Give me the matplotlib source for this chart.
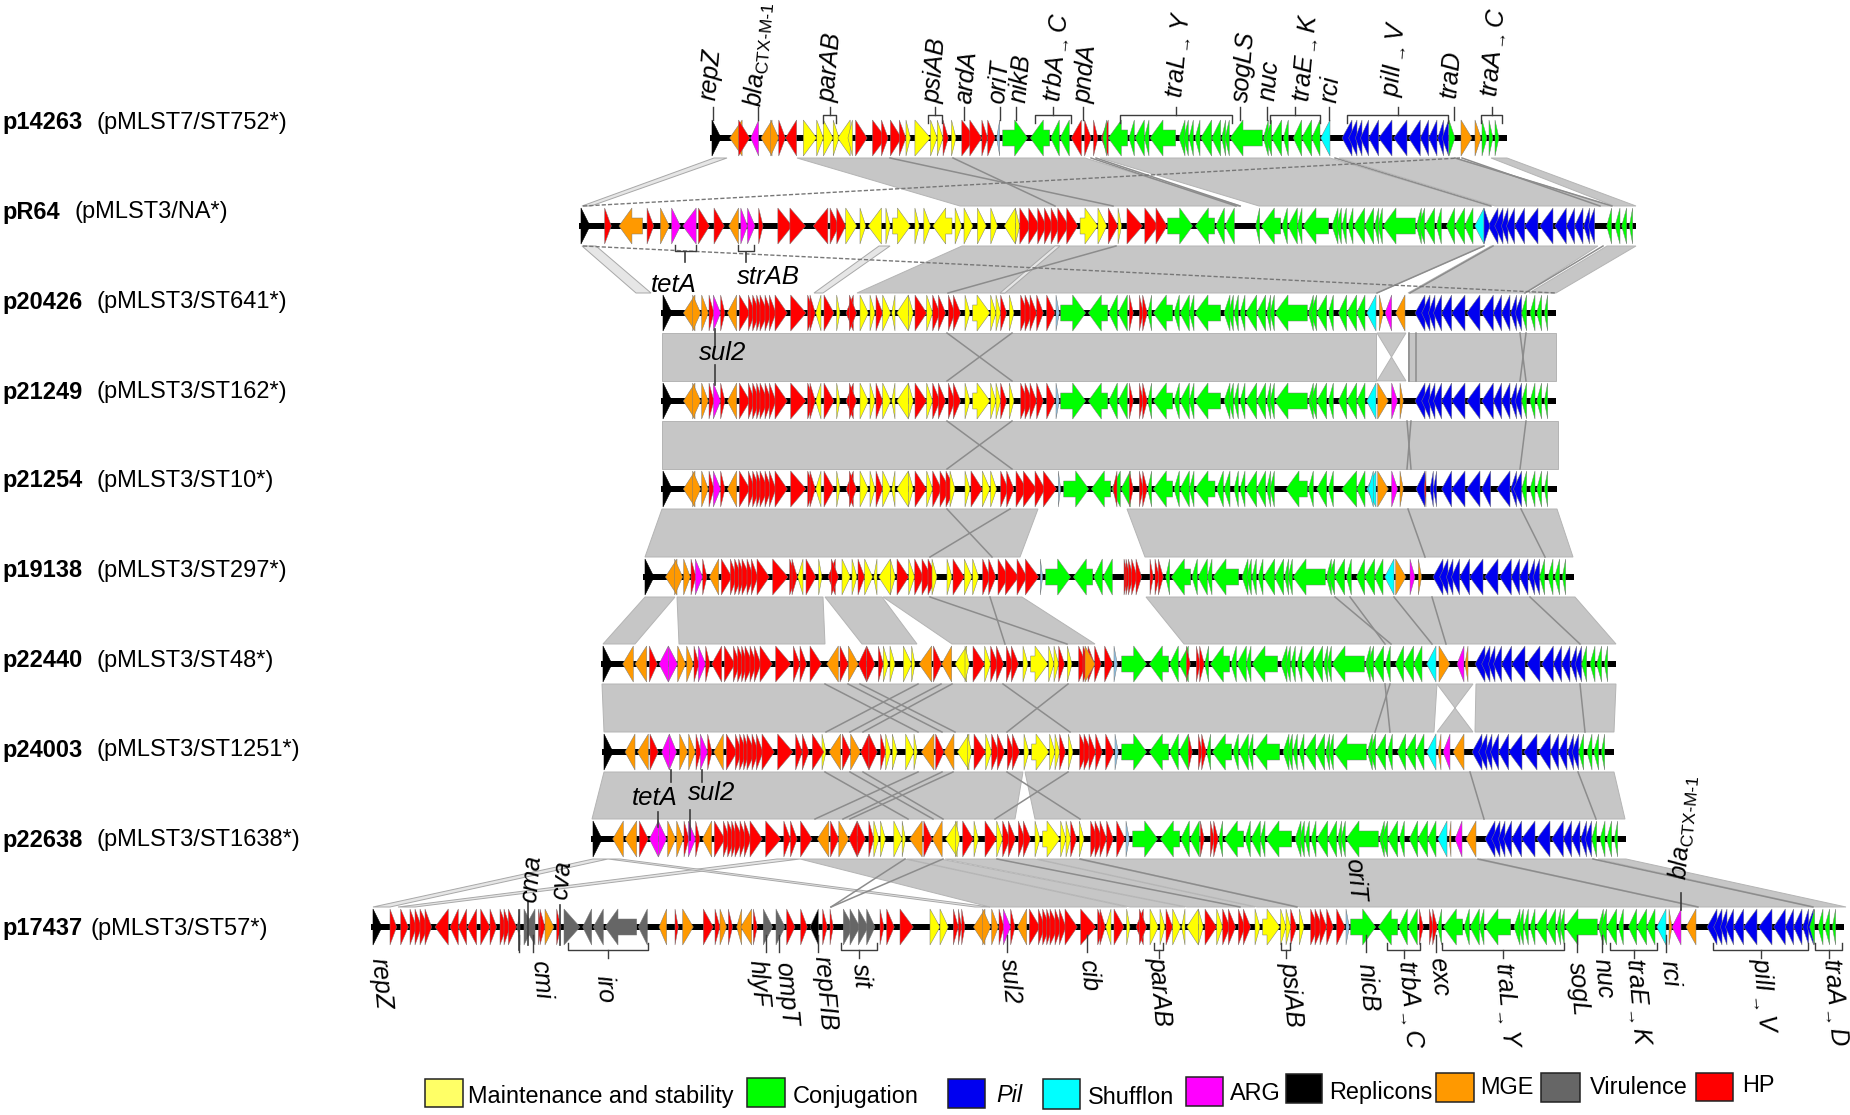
import matplotlib
matplotlib.use('Agg')
import matplotlib.pyplot as plt

plt.rcParams['font.family'] = ['Liberation Sans', 'DejaVu Sans']
plt.rcParams['mathtext.fontset'] = 'custom'
plt.rcParams['mathtext.it'] = 'Liberation Sans:italic'
plt.rcParams['mathtext.rm'] = 'Liberation Sans'
plt.rcParams['mathtext.default'] = 'it'

COLORS = {'H': '#ff0000', 'Y': '#ffff00', 'G': '#00ff00', 'B': '#0000f0', 'S': '#00ffff',
          'M': '#ff00ff', 'K': '#000000', 'O': '#ff9900', 'V': '#666666', 'L': '#8fc4e8'}

names = ['p14263', 'pR64', 'p20426', 'p21249', 'p21254', 'p19138', 'p22440', 'p24003', 'p22638', 'p17437']
types = ['(pMLST7/ST752*)', '(pMLST3/NA*)', '(pMLST3/ST641*)', '(pMLST3/ST162*)', '(pMLST3/ST10*)',
         '(pMLST3/ST297*)', '(pMLST3/ST48*)', '(pMLST3/ST1251*)', '(pMLST3/ST1638*)', '(pMLST3/ST57*)']
type_x = [97, 74, 97, 97, 97, 97, 97, 97, 97, 90]
label_y = [123, 212, 302, 392, 481, 571, 661, 750, 840, 929]
track_y = [138, 226, 313, 401, 489, 577, 664, 752, 839, 927]
track_start = [712, 581, 663, 663, 663, 645, 603, 604, 593, 373]
track_end = [1507, 1636, 1556, 1556, 1557, 1574, 1616, 1614, 1626, 1844]

# genes are (tail, tip, category), positions along the track
CORE1 = [(158, 182, 'O'), (185, 205, 'O'), (207, 222, 'H'), (220, 242, 'M'), (242, 255, 'H'),
         (298, 330, 'H'), (325, 345, 'H'), (338, 360, 'H'), (350, 368, 'H'), (360, 385, 'H'),
         (375, 395, 'H'), (388, 408, 'H'), (405, 442, 'H'), (452, 498, 'H')]
CORE2 = [(503, 523, 'H'), (510, 526, 'H'), (543, 527, 'Y'), (552, 582, 'H'), (590, 600, 'Y'),
         (640, 618, 'H'), (628, 650, 'H'), (660, 685, 'Y'), (690, 705, 'Y'), (708, 728, 'H'),
         (728, 752, 'Y'), (765, 755, 'Y'), (805, 770, 'Y'), (805, 820, 'Y')]
CORE3 = [(825, 860, 'H'), (860, 878, 'Y'), (878, 900, 'H'), (895, 917, 'H'), (925, 945, 'H'),
         (940, 962, 'H'), (975, 990, 'Y'), (998, 1050, 'Y'), (1052, 1068, 'Y'), (1068, 1082, 'Y'),
         (1082, 1100, 'H'), (1108, 1122, 'Y'), (1142, 1165, 'H'), (1155, 1178, 'H'), (1170, 1190, 'H'),
         (1190, 1210, 'H'), (1220, 1245, 'H'), (1248, 1258, 'L')]
CORE3B = [(825, 860, 'H'), (860, 878, 'Y'), (878, 905, 'H'), (900, 930, 'H'), (918, 945, 'H'), (930, 945, 'Y'),
          (975, 990, 'Y'), (993, 1027, 'H'), (1027, 1050, 'Y'), (1052, 1070, 'Y'), (1082, 1105, 'H'),
          (1100, 1122, 'H'), (1128, 1160, 'H'), (1150, 1190, 'H'), (1185, 1215, 'H'), (1210, 1250, 'H'),
          (1255, 1262, 'L')]
TRB = [(-118, -43, 'G'), (23, -35, 'G'), (52, 26, 'G'), (82, 54, 'G')]
REDS = [(88, 100, 'H'), (118, 130, 'H'), (128, 142, 'H')]
TRA2 = [(155, 143, 'G'), (218, 160, 'G'), (238, 222, 'G'), (268, 240, 'G'), (282, 268, 'G'), (362, 285, 'G'),
        (390, 372, 'G'), (400, 386, 'G'), (415, 402, 'G'), (435, 420, 'G'), (470, 437, 'G'), (497, 470, 'G'),
        (512, 500, 'G'), (523, 510, 'G'), (622, 525, 'G'), (640, 625, 'G'), (650, 632, 'G'), (680, 650, 'G'),
        (700, 685, 'G'), (740, 715, 'G'), (770, 740, 'G'), (795, 770, 'G')]
TRA2B = [(155, 143, 'G'), (218, 160, 'G'), (238, 222, 'G'), (268, 240, 'G'), (282, 268, 'G'), (345, 285, 'G'),
         (370, 350, 'G'), (390, 372, 'G'), (415, 402, 'G'), (435, 420, 'G'), (470, 437, 'G'), (497, 470, 'G'),
         (512, 500, 'G'), (523, 510, 'G'), (622, 558, 'G'), (640, 625, 'G'), (680, 650, 'G'), (700, 685, 'G'),
         (770, 725, 'G'), (795, 770, 'G')]
SHUF = [(828, 800, 'S')]
PIL = [(975, 945, 'B'), (990, 965, 'B'), (1005, 985, 'B'), (1025, 1000, 'B'), (1055, 1025, 'B'), (1095, 1055, 'B'),
       (1140, 1100, 'B'), (1180, 1145, 'B'), (1205, 1180, 'B'), (1230, 1205, 'B'), (1250, 1232, 'B'), (1265, 1245, 'B')]
PIL_B = [(975, 948, 'B'), (978, 973, 'H'), (1000, 990, 'B'), (1010, 1000, 'B'), (1055, 1025, 'B'), (1095, 1055, 'B'),
         (1140, 1100, 'B'), (1172, 1145, 'B'), (1230, 1190, 'B'), (1250, 1232, 'B'), (1265, 1240, 'B')]
ENDG = [(1280, 1265, 'G'), (1305, 1290, 'G'), (1325, 1310, 'G'), (1343, 1333, 'G')]

P14263_LEFT = [(408, 380, 'O'), (400, 425, 'H'), (445, 427, 'M'), (475, 450, 'O'), (472, 490, 'O'), (490, 505, 'H'),
               (530, 505, 'H'), (545, 575, 'Y'), (575, 590, 'Y'), (590, 612, 'Y'), (612, 625, 'Y'), (650, 622, 'Y'),
               (655, 645, 'Y'), (662, 688, 'H'), (700, 730, 'H'), (720, 735, 'H'), (740, 765, 'H'), (760, 775, 'H'),
               (775, 785, 'Y'), (795, 830, 'Y'), (830, 845, 'Y'), (845, 858, 'Y'), (858, 870, 'H'), (877, 887, 'Y'),
               (900, 930, 'H'), (918, 945, 'H'), (945, 958, 'H'), (958, 975, 'H'), (985, 978, 'L'), (1168, 1145, 'H'),
               (1175, 1190, 'H'), (1195, 1205, 'H'), (1228, 1212, 'H')]
P14263_RIGHT = [(1449, 1455, 'G'), (1461, 1472, 'O'), (1475, 1481, 'O'), (1482, 1487, 'G'), (1489, 1493, 'G'), (1495, 1499, 'G')]
PR64_LEFT = [(100, 115, 'H'), (185, 132, 'O'), (195, 210, 'H'), (225, 245, 'O'), (250, 270, 'M'), (305, 275, 'M'),
             (310, 335, 'H'), (345, 368, 'H'), (400, 378, 'O'), (405, 420, 'M'), (420, 437, 'M'), (445, 455, 'H'),
             (488, 520, 'H'), (515, 550, 'H'), (600, 567, 'H'), (605, 625, 'H'), (620, 640, 'H'), (640, 665, 'Y'),
             (672, 685, 'Y'), (720, 690, 'Y'), (730, 740, 'Y'), (745, 785, 'Y'), (795, 805, 'Y'), (815, 830, 'Y'),
             (878, 835, 'Y'), (885, 900, 'Y'), (905, 925, 'Y'), (935, 955, 'Y'), (965, 980, 'Y'), (1020, 995, 'Y'),
             (1020, 1030, 'Y'), (1030, 1055, 'H'), (1050, 1075, 'H'), (1070, 1090, 'H'), (1085, 1105, 'H'),
             (1100, 1120, 'H'), (1115, 1140, 'H'), (1135, 1160, 'H'), (1165, 1205, 'Y'), (1205, 1225, 'Y'),
             (1228, 1250, 'H'), (1250, 1258, 'Y'), (1270, 1305, 'H'), (1310, 1340, 'H'), (1335, 1360, 'H')]
FRONT_20426 = [(165, 130, 'O')]
INS = [(640, 660, 'H'), (660, 680, 'H'), (690, 725, 'H'), (775, 740, 'O'), (780, 805, 'H'), (805, 835, 'O'), (860, 835, 'H'),
       (860, 885, 'H'), (895, 910, 'H'), (910, 925, 'Y'), (930, 945, 'Y'), (970, 995, 'Y'), (995, 1005, 'Y'),
       (1055, 1017, 'O'), (1060, 1085, 'H'), (1115, 1085, 'O'), (1160, 1125, 'Y'), (1155, 1168, 'Y')]
FRONT_22440 = [(160, 128, 'O'), (200, 165, 'O'), (208, 232, 'H'), (265, 237, 'M'), (265, 293, 'M')]
FRONT_24003 = [(165, 135, 'O'), (205, 172, 'O'), (210, 235, 'H'), (268, 245, 'M'), (268, 290, 'M')]
FRONT_22638 = [(130, 98, 'O'), (170, 135, 'O'), (178, 205, 'H'), (235, 208, 'M'), (235, 260, 'M')]
P17437_A = [(90, 110, 'H'), (122, 145, 'H'), (150, 170, 'H'), (165, 185, 'H'), (180, 205, 'H'), (195, 215, 'H'),
            (265, 225, 'H'), (295, 270, 'H'), (320, 295, 'H'), (350, 322, 'H'), (362, 390, 'H'), (390, 410, 'H'),
            (420, 440, 'H'), (432, 450, 'H'), (445, 470, 'H'), (480, 472, 'V'), (492, 520, 'V'), (525, 495, 'V'),
            (535, 545, 'H'), (540, 555, 'H'), (555, 582, 'O'), (590, 603, 'H'), (612, 660, 'V'), (695, 668, 'V'),
            (730, 700, 'V'), (830, 735, 'V'), (862, 835, 'V'), (920, 897, 'O'), (945, 955, 'H'), (968, 1000, 'O'),
            (1030, 1060, 'H'), (1065, 1080, 'H'), (1080, 1100, 'O'), (1105, 1118, 'H'), (1145, 1130, 'O'),
            (1175, 1142, 'O'), (1180, 1192, 'H'), (1210, 1238, 'V'), (1248, 1275, 'V'), (1280, 1305, 'H'),
            (1322, 1342, 'H'), (1375, 1350, 'K'), (1388, 1402, 'H'), (1410, 1420, 'H'), (1450, 1480, 'V'),
            (1470, 1500, 'V'), (1495, 1525, 'V'), (1520, 1545, 'V')]
P17437_B = [(60, 72, 'H'), (80, 103, 'H'), (120, 160, 'H'), (210, 240, 'Y'), (240, 265, 'Y'), (280, 295, 'H'),
            (295, 305, 'H'), (305, 315, 'H'), (375, 340, 'O')]


def place(module, base, unit=3.0):
    return [(base + a / unit, base + b / unit, c) for a, b, c in module]


Z5 = 640
Z6 = 1100
genes = {}
genes['p14263'] = (place(P14263_LEFT, 560, 2.24) + place(TRB, Z6 - 58) + place(TRA2, Z6 - 45) + place(SHUF, Z6 - 46)
                   + place(PIL, Z6 - 73) + P14263_RIGHT)
genes['pR64'] = (place(PR64_LEFT, 560, 2.24) + place(TRB, Z6 + 107) + place(TRA2, Z6 + 108) + place(SHUF, Z6 + 108)
                 + place(PIL, Z6 + 73) + [(1484, 1490, 'B')] + place(ENDG, Z6 + 85))
base_left = place(FRONT_20426, Z5) + place(CORE1, Z5) + [(736.7, 727.3, 'O')] + place(CORE2, Z5)
genes['p20426'] = (base_left + place(CORE3, Z5) + place(TRB, Z6) + place(REDS, Z6) + place(TRA2, Z6) + place(SHUF, Z6)
                   + place([(838, 850, 'O'), (875, 855, 'M'), (915, 887, 'O')], Z6) + place(PIL, Z6) + place(ENDG, Z6))
genes['p21249'] = (base_left + place(CORE3, Z5) + place(TRB, Z6) + place(REDS, Z6) + place(TRA2, Z6) + place(SHUF, Z6)
                   + place([(833, 865, 'O'), (875, 893, 'M'), (900, 910, 'O')], Z6) + place(PIL, Z6) + place(ENDG, Z6))
genes['p21254'] = (base_left + place(CORE3B, Z5) + place(TRB, Z6 + 3) + place(REDS, Z6) + [(1117, 1113, 'H')]
                   + place(TRA2B, Z6) + place([(828, 800, 'S'), (820, 805, 'S'), (833, 865, 'O'), (875, 893, 'M'), (900, 910, 'O')], Z6)
                   + place(PIL_B, Z6) + place(ENDG, Z6))
genes['p19138'] = (place(FRONT_20426, Z5 - 18) + place(CORE1, Z5 - 18) + [(718.7, 709.3, 'O')] + place(CORE2, Z5 - 18)
                   + place(CORE3B, Z5 - 18) + place(TRB, Z6 - 15)
                   + place([(72, 85, 'H'), (78, 90, 'H'), (85, 100, 'H'), (95, 112, 'H'), (108, 125, 'H'),
                            (150, 160, 'H'), (165, 178, 'H'), (175, 190, 'H')], Z6)
                   + place(TRA2, Z6 + 18) + place(SHUF, Z6 + 18)
                   + place([(887, 918, 'O'), (930, 945, 'M'), (955, 965, 'O')], Z6)
                   + place(PIL, Z6 + 18) + place(ENDG, Z6 + 18))
genes['p22440'] = (place(FRONT_22440, 580) + place(CORE1, Z5 - 15) + [(721.7, 711.7, 'H')] + place(INS, 580)
                   + place(CORE3, Z5 + 58) + [(1085, 1095, 'O')] + place(TRB, Z6 + 61) + place(REDS, Z6 + 57)
                   + place(TRA2, Z6 + 57) + place(SHUF, Z6 + 60)
                   + [(1439, 1450, 'O'), (1464, 1457, 'M'), (1468, 1465, 'O')] + place(PIL, Z6 + 60) + place(ENDG, Z6 + 60))
genes['p24003'] = (place(FRONT_24003, 580) + place(CORE1, Z5 - 13) + [(723.3, 713.7, 'O')] + [(822, 826, 'Y')] + place(INS, 582.3)
                   + place(CORE3, Z5 + 59) + place(TRB, Z6 + 61) + place(REDS, Z6 + 59)
                   + place(TRA2, Z6 + 59) + place(SHUF, Z6 + 60)
                   + [(1441, 1438, 'O'), (1450, 1443, 'M'), (1464, 1453, 'O')] + place(PIL, Z6 + 57) + place(ENDG, Z6 + 57))
genes['p22638'] = (place(FRONT_22638, 580) + place(CORE1, Z5 - 25) + [(711.7, 702.3, 'O')] + place(INS, 570.5)
                   + place([(1148, 1180, 'H'), (1182, 1195, 'Y')], 580)
                   + place(CORE3, Z5 + 70) + place(TRB, Z6 + 72) + place(REDS, Z6 + 71)
                   + place(TRA2, Z6 + 71) + place(SHUF, Z6 + 71)
                   + [(1451, 1449, 'O'), (1462, 1455, 'M'), (1476, 1466, 'O')] + place(PIL, Z6 + 70) + place(ENDG, Z6 + 70))
genes['p17437'] = (place(P17437_A, 360) + place(P17437_B, 860) + place(CORE1, Z5 + 290) + [(1026.7, 1017.3, 'O')]
                   + place(CORE2, Z5 + 290) + place(CORE3, Z5 + 290) + place(TRB, Z6 + 290) + place(REDS, Z6 + 290)
                   + place(TRA2, Z6 + 290) + place(SHUF, Z6 + 290)
                   + [(1669, 1672, 'O'), (1681, 1672, 'M'), (1696, 1686, 'O')] + place(PIL, Z6 + 292) + place(ENDG, Z6 + 288))

# homology blocks between neighbouring tracks: top left, top right, bottom left, bottom right
ribbons = [
    [(797, 1085, 960, 1241), (1100, 1330, 1259, 1491), (1339, 1455, 1495, 1612), (1491, 1507, 1614, 1636)],
    [(962, 1484, 857, 1377), (1491, 1598, 1408, 1525), (1607, 1636, 1529, 1556)],
    [(662, 1376, 662, 1376), (1377, 1406, 1406, 1377), (1408, 1556, 1408, 1556)],
    [(662, 1558, 662, 1558)],
    [(662, 1038, 645, 1020), (1127, 1557, 1145, 1573)],
    [(645, 675, 603, 635), (677, 823, 679, 825), (825, 882, 862, 917), (883, 1022, 952, 1095),
     (1146, 1575, 1184, 1616)],
    [(602, 1437, 604, 1434), (1437, 1473, 1473, 1437), (1476, 1616, 1475, 1614)],
    [(604, 1023, 592, 1015), (1025, 1614, 1035, 1625)],
    [(800, 905, 990, 1127), (907, 940, 1130, 1185), (945, 1035, 1187, 1255), (1037, 1077, 1257, 1297),
     (1080, 1475, 1300, 1698), (1480, 1593, 1700, 1813), (1598, 1626, 1815, 1846)],
]
light_bands = [
    [(714, 727, 582, 591)],
    [(582, 596, 636, 651), (879, 890, 814, 823), (1055, 1060, 1000, 1005)],
    [], [], [], [], [],
    [],
    [(593, 608, 373, 390), (777, 800, 398, 415), (608, 620, 975, 990)],
]
stripes = [
    [(890, 1113), (953, 1055), (1091, 1236), (1096, 1240), (1335, 1491), (1455, 1612), (1462, 1600)],
    [(1116, 948), (1484, 1377), (1493, 1410), (1603, 1525)],
    [(947, 1012), (1012, 947), (1409, 1409), (1416, 1416), (1520, 1526), (1526, 1520)],
    [(947, 1012), (1012, 947), (1407, 1411), (1411, 1407), (1526, 1520)],
    [(947, 992), (1010, 930), (1408, 1425), (1521, 1545)],
    [(930, 1067), (990, 1005), (1335, 1391), (1350, 1385), (1394, 1432), (1432, 1446), (1530, 1580)],
    [(825, 918), (848, 942), (860, 955), (918, 826), (941, 850), (952, 863), (1003, 1070), (1068, 1007),
     (1390, 1375), (1385, 1390), (1580, 1585)],
    [(825, 908), (850, 933), (863, 943), (918, 815), (942, 843), (953, 850), (1007, 1080), (1068, 995),
     (1470, 1484), (1578, 1596)],
    [(905, 831), (943, 831), (997, 1240), (1080, 1297), (1478, 1698), (1593, 1813)],
]
dashed = [(0, 583, 1460), (1, 583, 1556)]

top_singles = [713, 758, 964, 1000, 1016, 1083, 1240, 1267, 1329, 1454]
top_brackets = [(823, 836), (928, 942), (1035, 1071), (1120, 1232), (1270, 1320), (1347, 1448), (1481, 1502)]
top_labels = [(709, 100, 'repZ'), (754, 107, r'$bla_{\text{CTX-M-1}}$'), (828, 102, 'parAB'), (933, 103, 'psiAB'),
              (964, 103, 'ardA'), (997, 103, 'oriT'), (1019, 102, 'nikB'), (1053, 102, r'$trbA_{\rightarrow}C$'),
              (1084, 103, 'pndA'), (1176, 98, r'$traL_{\rightarrow}Y$'), (1241, 102, 'sogLS'), (1268, 100, 'nuc'),
              (1303, 102, r'$traE_{\rightarrow}K$'), (1330, 102, 'rci'), (1391, 97, r'$pilI_{\rightarrow}V$'),
              (1449, 97, 'traD'), (1491, 97, r'$traA_{\rightarrow}C$')]
bottom_singles = [533, 519, 766, 779, 818, 1007, 1087, 1366, 1436, 1577, 1602, 1666]
bottom_brackets = [(568, 648), (841, 877), (1154, 1163), (1281, 1290), (1387, 1420), (1442, 1564), (1610, 1657),
                   (1713, 1808), (1815, 1842)]
bottom_labels = [(379, 958, 'repZ'), (539, 960, 'cmi'), (604, 975, 'iro'), (757, 960, 'hlyF'), (783, 962, 'ompT'),
                 (822, 956, 'repFIB'), (860, 963, 'sit'), (1008, 958, 'sul2'), (1087, 959, 'cib'), (1157, 957, 'parAB'),
                 (1289, 962, 'psiAB'), (1366, 963, 'nicB'), (1406, 960, r'$trbA_{\rightarrow}C$'), (1437, 957, 'exc'),
                 (1502, 962, r'$traL_{\rightarrow}Y$'), (1576, 962, 'sogL'), (1602, 958, 'nuc'),
                 (1633, 958, r'$traE_{\rightarrow}K$'), (1669, 960, 'rci'), (1760, 958, r'$pilI_{\rightarrow}V$'),
                 (1830, 958, r'$traA_{\rightarrow}D$')]
mid_labels = [(674, 285, 'tetA'), (768, 277, 'strAB'), (723, 353, 'sul2'), (655, 798, 'tetA'), (712, 793, 'sul2')]
mid_leaders = [(685, 252, 262), (746, 252, 262), (715, 329, 346), (715, 365, 385), (671, 770, 782), (658, 812, 827),
               (702, 770, 782), (690, 810, 840), (528, 902, 945), (560, 905, 945), (519, 910, 950), (1681, 893, 910)]
mid_brackets = [(675, 696), (738, 754)]
rot_up = [(529, 902, 'cma'), (560, 899, 'cva'), (1679, 880, r'$bla_{\text{CTX-M-1}}$')]

legend_boxes = [(425, 463, 1079, 1107, '#ffff66'), (747, 785, 1078, 1107, '#00ff00'), (948, 985, 1079, 1108, '#0000f0'),
                (1043, 1080, 1079, 1109, '#00ffff'), (1186, 1223, 1077, 1106, '#ff00ff'), (1286, 1322, 1074, 1103, '#000000'),
                (1436, 1474, 1073, 1102, '#ff9900'), (1541, 1580, 1073, 1102, '#666666'), (1696, 1733, 1073, 1101, '#ff0000')]
legend_text = [(468, 1097, 'Maintenance and stability', 'normal'), (793, 1097, 'Conjugation', 'normal'), (996, 1095, 'Pil', 'italic'),
               (1088, 1097, 'Shufflon', 'normal'), (1230, 1093, 'ARG', 'normal'), (1329, 1092, 'Replicons', 'normal'),
               (1480, 1088, 'MGE', 'normal'), (1590, 1088, 'Virulence', 'normal'), (1742, 1085, 'HP', 'normal')]

PX = 0.72  # points per pixel at dpi 100
GAP = 20
HALF = 18
SHAFT = 8
HEAD = 13


def gene_shape(tail, tip, y):
    length = abs(tip - tail)
    sign = 1 if tip > tail else -1
    if length <= HEAD + 3:
        return [(tail, y - HALF), (tip, y), (tail, y + HALF)]
    neck = tip - sign * HEAD
    return [(tail, y - SHAFT), (neck, y - SHAFT), (neck, y - HALF), (tip, y), (neck, y + HALF),
            (neck, y + SHAFT), (tail, y + SHAFT)]


fig = plt.figure(figsize=(18.5, 11.15), dpi=100)
ax = fig.add_axes([0, 0, 1, 1])
ax.set_xlim(0, 1850)
ax.set_ylim(1115, 0)
ax.axis('off')

for i in range(len(ribbons)):
    y0 = track_y[i] + GAP
    y1 = track_y[i + 1] - GAP
    for t1, t2, b1, b2 in ribbons[i]:
        ax.fill([t1, t2, b2, b1], [y0, y0, y1, y1], facecolor='#c6c6c6', edgecolor='#b4b4b4', lw=0.7, zorder=1)
    for t1, t2, b1, b2 in light_bands[i]:
        ax.fill([t1, t2, b2, b1], [y0, y0, y1, y1], facecolor='#e6e6e6', edgecolor='#a8a8a8', lw=0.7, zorder=1)
    for t, b in stripes[i]:
        ax.plot([t, b], [y0, y1], color='#8c8c8c', lw=1.1, zorder=2)

for i, x1, x2 in dashed:
    ax.plot([x1, x2], [track_y[i] + GAP if i == 1 else track_y[i + 1] - GAP,
                       track_y[i + 1] - GAP if i == 1 else track_y[i] + GAP],
            color='#777777', lw=1.0, ls=(0, (3, 1.5)), zorder=3)

for i, name in enumerate(names):
    y = track_y[i]
    ax.plot([track_start[i] - 2, track_end[i]], [y, y], color='black', lw=6 * PX, solid_capstyle='butt', zorder=4)
    start = track_start[i]
    ax.fill([start, start + 9, start], [y - HALF, y, y + HALF], facecolor='black', edgecolor='black', lw=0.4, zorder=5)
    for tail, tip, cat in genes[name]:
        pts = gene_shape(tail, tip, y)
        ax.fill([p[0] for p in pts], [p[1] for p in pts], facecolor=COLORS[cat], edgecolor='#7a7a7a', lw=0.35, zorder=5)
    ax.text(2, label_y[i], name, fontsize=17, fontweight='bold', va='center', ha='left', zorder=8)
    ax.text(type_x[i], label_y[i], types[i], fontsize=17, va='center', ha='left', zorder=8)

LINE = '#3c3c3c'
for x in top_singles:
    ax.plot([x, x], [107, 120], color=LINE, lw=1.0, zorder=6)
for x1, x2 in top_brackets:
    ax.plot([x1, x1, x2, x2], [123, 115, 115, 123], color=LINE, lw=1.0, zorder=6)
    ax.plot([(x1 + x2) / 2] * 2, [107, 115], color=LINE, lw=1.0, zorder=6)
for x in bottom_singles:
    ax.plot([x, x], [935, 952], color=LINE, lw=1.0, zorder=6)
for x1, x2 in bottom_brackets:
    ax.plot([x1, x1, x2, x2], [943, 950, 950, 943], color=LINE, lw=1.0, zorder=6)
    ax.plot([(x1 + x2) / 2] * 2, [950, 958], color=LINE, lw=1.0, zorder=6)
for x, y0, y1 in mid_leaders:
    ax.plot([x, x], [y0, y1], color=LINE, lw=1.2, zorder=6)
for x1, x2 in mid_brackets:
    ax.plot([x1, x1, x2, x2], [245, 251, 251, 245], color=LINE, lw=1.0, zorder=6)

for x, y, s in top_labels + rot_up:
    ax.text(x, y, s, fontsize=18, style='italic', rotation=85, rotation_mode='anchor', ha='left', va='center', zorder=8)
for x, y, s in bottom_labels + [(1353, 858, 'oriT')]:
    ax.text(x, y, s, fontsize=18, style='italic', rotation=-85, rotation_mode='anchor', ha='left', va='center', zorder=8)
for x, y, s in mid_labels:
    ax.text(x, y, s, fontsize=18.5, style='italic', ha='center', va='center', zorder=8)

for x1, x2, y1, y2, col in legend_boxes:
    ax.fill([x1, x2, x2, x1], [y1, y1, y2, y2], facecolor=col, edgecolor='#222222', lw=1.1, zorder=6)
for x, y, s, st in legend_text:
    ax.text(x, y, s, fontsize=16.9, style=st, ha='left', va='center', zorder=8)

fig.savefig('out.png', dpi=100)
